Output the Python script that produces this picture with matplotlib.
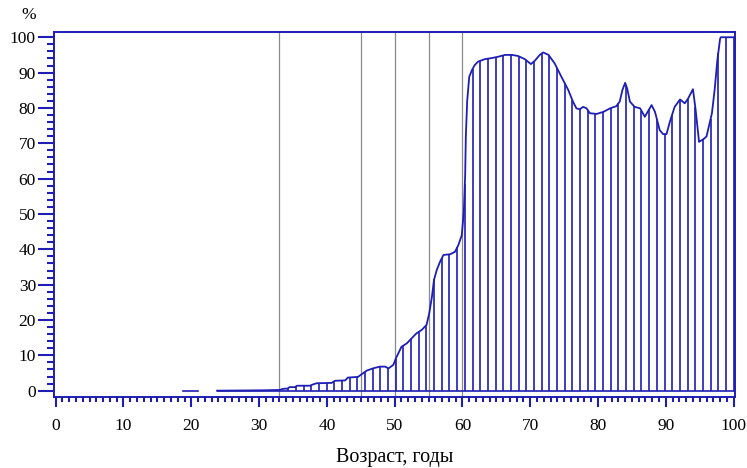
import numpy as np
import matplotlib
matplotlib.use('Agg')
import matplotlib.pyplot as plt

# data
early_age = [18.8, 21.0]
early_pct = [0.0, 0.0]

age = [23.8, 30.5, 33.0, 33.5, 34.2, 34.5, 35.3, 35.6, 37.5, 38.0, 38.5, 40.7,
       41.2, 42.7, 43.1, 44.6, 45.1, 45.9, 46.8, 47.8, 48.6, 49.1, 49.8, 50.2,
       51.0, 51.8, 52.5, 53.2, 54.0, 54.7, 55.1, 55.5, 55.8, 56.2, 56.7, 57.2,
       58.2, 58.9, 59.4, 59.9, 60.2, 60.4, 60.5, 60.7, 61.0, 61.4, 61.8, 62.3,
       63.3, 64.3, 65.3, 66.3, 67.3, 68.2, 69.2, 70.1, 70.7, 71.4, 71.9, 72.7,
       73.6, 74.6, 75.6, 76.3, 76.8, 77.3, 77.8, 78.3, 78.8, 79.8, 80.8, 81.8,
       82.7, 83.2, 83.6, 84.0, 84.3, 84.7, 85.4, 86.2, 86.9, 87.9, 88.4, 89.1,
       89.6, 90.1, 90.6, 91.3, 92.1, 92.8, 93.3, 94.0, 94.4, 94.9, 95.5, 96.0,
       96.8, 97.2, 97.6, 98.0, 98.1, 100.0]
pct = [0.0, 0.1, 0.2, 0.5, 0.6, 1.0, 1.0, 1.4, 1.4, 1.8, 2.1, 2.2,
       2.8, 2.9, 3.7, 3.9, 4.6, 5.7, 6.3, 6.8, 6.8, 6.3, 7.3, 9.2,
       12.4, 13.4, 14.8, 16.2, 17.2, 18.6, 21.9, 26.6, 31.3, 34.1, 36.5, 38.4,
       38.6, 39.3, 41.2, 44.0, 50.6, 61.0, 72.0, 82.0, 88.8, 90.7, 92.1, 93.1,
       93.8, 94.1, 94.5, 95.0, 95.0, 94.7, 93.8, 92.4, 93.4, 95.0, 95.7, 95.0,
       92.6, 88.8, 85.1, 81.8, 79.9, 79.6, 80.3, 79.9, 78.5, 78.3, 78.9, 79.9,
       80.5, 81.8, 85.1, 87.1, 85.5, 81.8, 80.3, 79.9, 77.5, 80.8, 78.9, 73.7,
       72.6, 72.6, 76.1, 80.3, 82.4, 81.3, 82.7, 85.3, 79.4, 70.4, 71.1, 71.9,
       78.5, 85.1, 93.5, 99.5, 100.0, 100.0]

marks = [33, 45, 50, 55, 60]

blue = '#1e1eb4'
grey = '#8a8a8a'

fig = plt.figure(figsize=(7.47, 4.68), dpi=100)
ax = fig.add_axes([0.0723, 0.1524, 0.9116, 0.7786])

# vertical grey markers
for m in marks:
    ax.axvline(m, color=grey, lw=0.9, zorder=1)

# stems under the curve
stem_x = np.linspace(34.3, 100, 59)
stem_y = np.interp(stem_x, age, pct)
ax.vlines(stem_x, 0, stem_y, color=blue, lw=1.2, zorder=2)
ax.hlines(0, age[0], 100, color=blue, lw=1.2, zorder=2)

ax.plot(early_age, early_pct, color=blue, lw=1.2)
ax.plot(age, pct, color=blue, lw=1.3, zorder=3)

ax.set_xlim(-0.25, 100.2)
ax.set_ylim(-1.7, 101.4)
ax.set_xticks(np.arange(0, 101, 10))
ax.set_xticks(np.arange(0, 101, 1), minor=True)
ax.set_yticks(np.arange(0, 101, 10))
ax.set_yticks(np.arange(0, 101, 2), minor=True)

for s in ax.spines.values():
    s.set_color(blue)
    s.set_linewidth(1.4)

ax.tick_params(axis='y', which='major', length=11.5, width=1.5, color=blue, pad=1.5)
ax.tick_params(axis='y', which='minor', length=5, width=1.5, color=blue)
ax.tick_params(axis='x', which='major', length=7.5, width=1.5, color=blue, pad=8)
ax.tick_params(axis='x', which='minor', length=3.6, width=1.5, color=blue)
for lab in ax.get_xticklabels() + ax.get_yticklabels():
    lab.set_family('Liberation Serif')
    lab.set_fontsize(12.5)

ax.set_xlabel('Возраст, годы', family='Liberation Serif', fontsize=14.5, labelpad=10)
fig.text(29 / 747, 1 - 15 / 468, '%', family='Liberation Serif', fontsize=12.5,
         ha='center', va='center')

fig.savefig('out.png', dpi=100)
